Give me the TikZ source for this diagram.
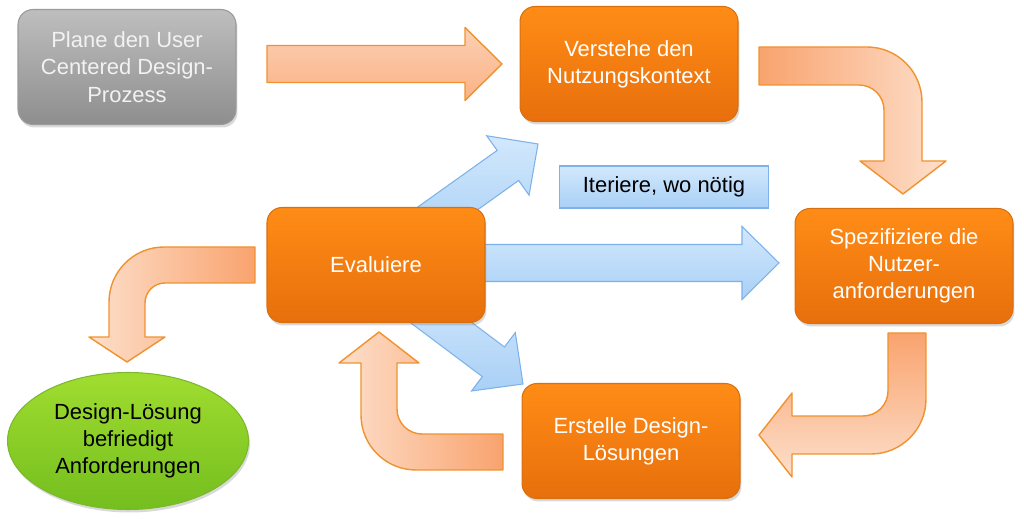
\documentclass[tikz,border=0pt]{standalone}
\usepackage{fontspec}
\setmainfont{Liberation Sans}
\usetikzlibrary{calc,shapes.geometric,shadows}
\definecolor{StageTop}{HTML}{FF8C16}
\definecolor{StageBottom}{HTML}{E86F0C}
\definecolor{StageEdge}{HTML}{D9700F}
\definecolor{StartTop}{HTML}{BEBEBE}
\definecolor{StartBottom}{HTML}{8E8E8E}
\definecolor{StartEdge}{HTML}{9A9A9A}
\definecolor{GoalTop}{HTML}{A0DD30}
\definecolor{GoalBottom}{HTML}{74BE1E}
\definecolor{GoalEdge}{HTML}{7CB82C}
\definecolor{FlowDark}{HTML}{F9A36E}
\definecolor{FlowLight}{HTML}{FDDFCB}
\definecolor{FlowEdge}{HTML}{F0922E}
\definecolor{IterTop}{HTML}{D2E8FC}
\definecolor{IterBottom}{HTML}{A9D0F6}
\definecolor{IterEdge}{HTML}{7DB1EA}

% straight block arrow from #2 to #3
\newcommand{\blockarrow}[3]{%
  \path[#1] ($(#2)!0.37cm!90:(#3)$)
    -- ($(#3)!0.74cm!(#2)!0.37cm!90:(#3)$)
    -- ($(#3)!0.74cm!(#2)!0.73cm!90:(#3)$)
    -- (#3)
    -- ($(#3)!0.74cm!(#2)!0.73cm!-90:(#3)$)
    -- ($(#3)!0.74cm!(#2)!0.37cm!-90:(#3)$)
    -- ($(#2)!0.37cm!-90:(#3)$) -- cycle;}

\begin{document}
\begin{tikzpicture}[x=0.02cm,y=0.02cm,
  txt/.style={font=\fontsize{12.5}{15.5}\selectfont,align=center},
  stage/.style={txt,rectangle,rounded corners=0.3cm,minimum width=4.36cm,minimum height=2.3cm,
    top color=StageTop,bottom color=StageBottom,draw=StageEdge,line width=0.6pt,text=white,
    drop shadow={opacity=0.3,shadow xshift=0.03cm,shadow yshift=-0.06cm}},
  startbox/.style={stage,top color=StartTop,bottom color=StartBottom,draw=StartEdge,text=white!95!black},
  goal/.style={txt,ellipse,minimum width=4.82cm,minimum height=2.74cm,inner sep=0pt,
    top color=GoalTop,bottom color=GoalBottom,draw=GoalEdge,line width=0.6pt,text=black,
    drop shadow={opacity=0.3,shadow xshift=0.03cm,shadow yshift=-0.06cm}},
  note/.style={txt,rectangle,minimum width=4.18cm,minimum height=0.84cm,
    top color=IterTop,bottom color=IterBottom,draw=IterEdge,line width=0.6pt,text=black},
  flowarrow/.style={draw=FlowEdge,line width=0.8pt,line join=round},
  iterarrow/.style={draw=IterEdge,line width=0.6pt,top color=IterTop,bottom color=IterBottom}]
\useasboundingbox (0,0) rectangle (1024,-519);

% arrow ends
\coordinate (a1s) at (267,-64);
\coordinate (a1t) at (502,-64);
\coordinate (a2s) at (759,-66);
\coordinate (a2t) at (903,-194);
\coordinate (a3s) at (907,-333);
\coordinate (a3t) at (759,-435);
\coordinate (a4s) at (503,-452);
\coordinate (a4t) at (379,-332);
\coordinate (a5s) at (255,-265);
\coordinate (a5t) at (127,-362);
\coordinate (b1s) at (416,-231);
\coordinate (b1t) at (538,-144);
\coordinate (b2s) at (470,-263);
\coordinate (b2t) at (779,-263);
\coordinate (b3s) at (411,-300);
\coordinate (b3t) at (523,-384);

% iteration arrows
\blockarrow{iterarrow}{b1s}{b1t}
\blockarrow{iterarrow}{b2s}{b2t}
\blockarrow{iterarrow}{b3s}{b3t}

% process arrows
\blockarrow{flowarrow,top color=FlowLight!75!FlowDark,bottom color=FlowDark!75!FlowLight}{a1s}{a1t}
\path[flowarrow,left color=FlowDark,right color=FlowLight] let \p1=(a2s), \p2=(a2t) in
  (\x1,\y1+0.38cm) -- (\x2+0.38cm-1.1cm,\y1+0.38cm) arc[start angle=90,end angle=0,radius=1.1cm]
  -- (\x2+0.38cm,\y2+0.66cm) -- (\x2+0.86cm,\y2+0.66cm) -- (\x2,\y2) -- (\x2-0.86cm,\y2+0.66cm)
  -- (\x2-0.38cm,\y2+0.66cm) -- (\x2-0.38cm,\y1-0.88cm) arc[start angle=0,end angle=90,radius=0.5cm]
  -- (\x1,\y1-0.38cm) -- cycle;
\path[flowarrow,top color=FlowDark,bottom color=FlowLight] let \p1=(a3s), \p2=(a3t) in
  (\x1-0.38cm,\y1) -- (\x1+0.38cm,\y1) -- (\x1+0.38cm,\y2-0.38cm+1.1cm) arc[start angle=0,end angle=-90,radius=1.1cm]
  -- (\x2+0.66cm,\y2-0.38cm) -- (\x2+0.66cm,\y2-0.84cm) -- (\x2,\y2) -- (\x2+0.66cm,\y2+0.84cm)
  -- (\x2+0.66cm,\y2+0.38cm) -- (\x1-0.88cm,\y2+0.38cm) arc[start angle=-90,end angle=0,radius=0.5cm]
  -- cycle;
\path[flowarrow,right color=FlowDark,left color=FlowLight] let \p1=(a4s), \p2=(a4t) in
  (\x1,\y1+0.36cm) -- (\x1,\y1-0.36cm) -- (\x2-0.36cm+1.1cm,\y1-0.36cm) arc[start angle=270,end angle=180,radius=1.1cm]
  -- (\x2-0.36cm,\y2-0.62cm) -- (\x2-0.8cm,\y2-0.62cm) -- (\x2,\y2) -- (\x2+0.8cm,\y2-0.62cm)
  -- (\x2+0.36cm,\y2-0.62cm) -- (\x2+0.36cm,\y1+0.86cm) arc[start angle=180,end angle=270,radius=0.5cm]
  -- cycle;
\path[flowarrow,right color=FlowDark,left color=FlowLight] let \p1=(a5s), \p2=(a5t) in
  (\x1,\y1-0.36cm) -- (\x1,\y1+0.36cm) -- (\x2-0.36cm+1.1cm,\y1+0.36cm) arc[start angle=90,end angle=180,radius=1.1cm]
  -- (\x2-0.36cm,\y2+0.5cm) -- (\x2-0.76cm,\y2+0.5cm) -- (\x2,\y2) -- (\x2+0.76cm,\y2+0.5cm)
  -- (\x2+0.36cm,\y2+0.5cm) -- (\x2+0.36cm,\y1-0.76cm) arc[start angle=180,end angle=90,radius=0.4cm]
  -- cycle;

% stages
\node[startbox] (plan) at (127,-67) {Plane den User\\Centered Design-\\Prozess};
\node[stage] (kontext) at (629,-64) {Verstehe den\\Nutzungskontext};
\node[stage] (anforderung) at (904,-266) {Spezifiziere die\\Nutzer-\\anforderungen};
\node[stage] (entwurf) at (631,-441) {Erstelle Design-\\Lösungen};
\node[stage] (evaluation) at (376,-265) {Evaluiere};
\node[goal] (loesung) at (128,-441) {Design-Lösung\\befriedigt\\Anforderungen};
\node[note] (iteration) at (664,-187) {Iteriere, wo nötig};
\end{tikzpicture}
\end{document}
